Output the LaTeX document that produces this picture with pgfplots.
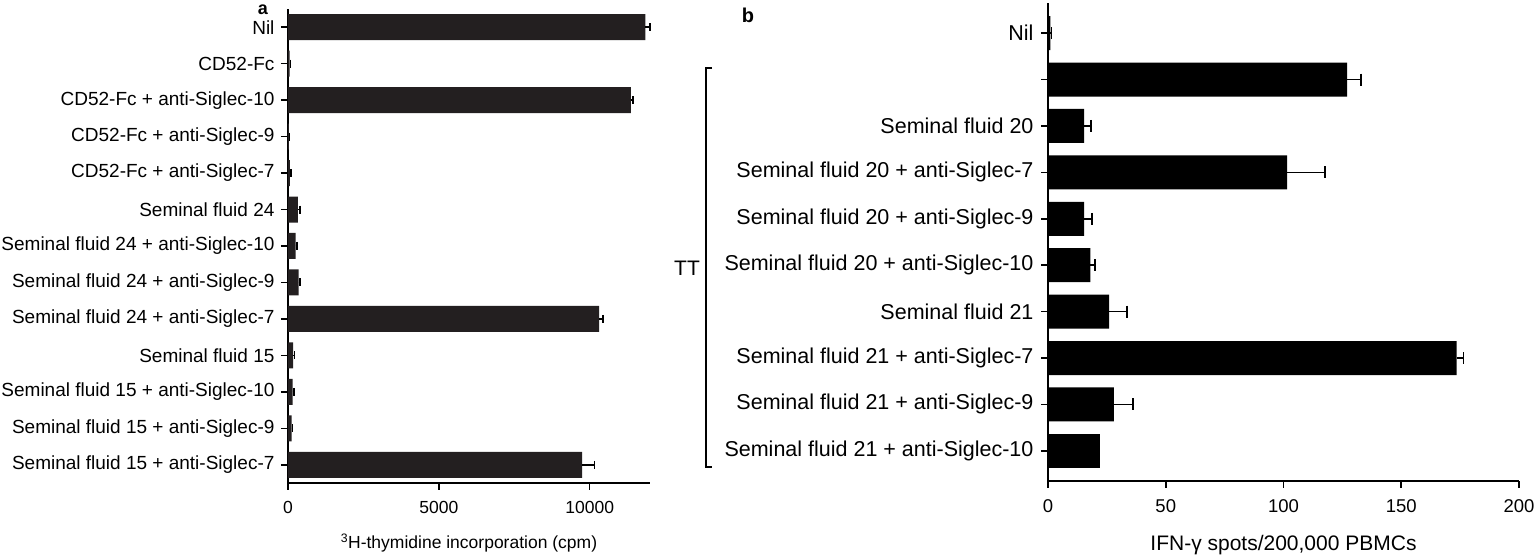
\documentclass[border=0pt]{standalone}
\usepackage{fontspec}
\setmainfont{Liberation Sans}
\usepackage{pgfplots}
\pgfplotsset{compat=1.18}
\definecolor{barA}{HTML}{231F20}
\begin{document}
\begin{tikzpicture}
\useasboundingbox (0pt,0pt) rectangle (1535pt,557pt);
\pgfplotsset{
  common/.style={
    scale only axis,
    axis lines*=left,
    axis line style={line width=2pt,-},
    tick style={line width=1.6pt, black},
    tick align=outside,
    major tick length=7pt,
    /pgf/number format/assume math mode=true,
    /pgf/number format/set thousands separator={},
    scaled x ticks=false,
    xbar, bar shift=0pt,
    clip=false,
    xticklabel style={anchor=north, yshift=-8pt},
  }
}
% ---------------- panel a ----------------
\begin{axis}[common,
  at={(288pt,74pt)}, anchor=south west,
  width=362pt, height=474pt,
  xmin=0, xmax=12000, xtick={0,5000,10000},
  ymin=-0.5, ymax=12.5,
  ytick={0,...,12},
  yticklabels={
    Seminal fluid 15 + anti-Siglec-7,
    Seminal fluid 15 + anti-Siglec-9,
    Seminal fluid 15 + anti-Siglec-10,
    Seminal fluid 15,
    Seminal fluid 24 + anti-Siglec-7,
    Seminal fluid 24 + anti-Siglec-9,
    Seminal fluid 24 + anti-Siglec-10,
    Seminal fluid 24,
    CD52-Fc + anti-Siglec-7,
    CD52-Fc + anti-Siglec-9,
    CD52-Fc + anti-Siglec-10,
    CD52-Fc,
    Nil},
  yticklabel style={font=\fontsize{19}{21}\selectfont, xshift=-3pt},
  xticklabel style={font=\fontsize{17.5}{20}\selectfont},
  xlabel={\textsuperscript{3}H-thymidine incorporation (cpm)},
  xlabel style={font=\fontsize{17.5}{20}\selectfont, at={(axis description cs:0.5,0)}, anchor=center, yshift=-60pt},
  bar width=26pt,
]
\addplot[fill=barA, draw=none, error bars/.cd, x dir=plus, x explicit,
  error mark=|,
  error bar style={line width=1.6pt, draw=black},
  error mark options={draw=black, line width=1.6pt, mark size=4pt}]
coordinates {
  (9750,0) +- (410,0)
  (120,1) +- (30,0)
  (150,2) +- (40,0)
  (170,3) +- (40,0)
  (10310,4) +- (130,0)
  (350,5) +- (50,0)
  (250,6) +- (50,0)
  (330,7) +- (60,0)
  (60,8) +- (40,0)
  (30,9) +- (20,0)
  (11370,10) +- (75,0)
  (50,11) +- (30,0)
  (11850,12) +- (140,0)
};
\end{axis}
% ---------------- panel b ----------------
\begin{axis}[common,
  at={(1048pt,76pt)}, anchor=south west,
  width=471pt, height=478pt,
  xmin=0, xmax=200, xtick={0,50,100,150,200},
  ymin=-0.65, ymax=9.65,
  ytick={0,...,9},
  yticklabels={
    Seminal fluid 21 + anti-Siglec-10,
    Seminal fluid 21 + anti-Siglec-9,
    Seminal fluid 21 + anti-Siglec-7,
    Seminal fluid 21,
    Seminal fluid 20 + anti-Siglec-10,
    Seminal fluid 20 + anti-Siglec-9,
    Seminal fluid 20 + anti-Siglec-7,
    Seminal fluid 20,
    {},
    Nil},
  yticklabel style={font=\fontsize{21.5}{24}\selectfont, xshift=-4pt},
  xticklabel style={font=\fontsize{18.5}{22}\selectfont},
  xlabel={IFN-γ spots/200,000 PBMCs},
  xlabel style={font=\fontsize{21}{24}\selectfont, at={(axis description cs:0.5,0)}, anchor=center, yshift=-64pt},
  bar width=34pt,
]
\addplot[fill=black, draw=none, error bars/.cd, x dir=plus, x explicit,
  error mark=|,
  error bar style={line width=1.6pt, draw=black},
  error mark options={draw=black, line width=1.6pt, mark size=6pt}]
coordinates {
  (28,1) +- (8,0)
  (173.5,2) +- (3,0)
  (26,3) +- (7.5,0)
  (18,4) +- (2,0)
  (15.3,5) +- (3.5,0)
  (101.5,6) +- (16,0)
  (15.3,7) +- (3,0)
  (127,8) +- (6,0)
  (1,9) +- (0.5,0)
};
\addplot[fill=black, draw=none] coordinates {(22,0)};
\end{axis}
% bracket and group label
\draw[line width=1.5pt] (712pt,489pt) -- (706pt,489pt) -- (706pt,90pt) -- (712pt,90pt);
\node[font=\fontsize{21}{24}\selectfont] at (687pt,289pt) {TT};
\node[font=\bfseries\fontsize{18}{20}\selectfont] at (263pt,547pt) {a};
\node[font=\bfseries\fontsize{20}{22}\selectfont] at (748pt,542pt) {b};
\end{tikzpicture}
\end{document}
